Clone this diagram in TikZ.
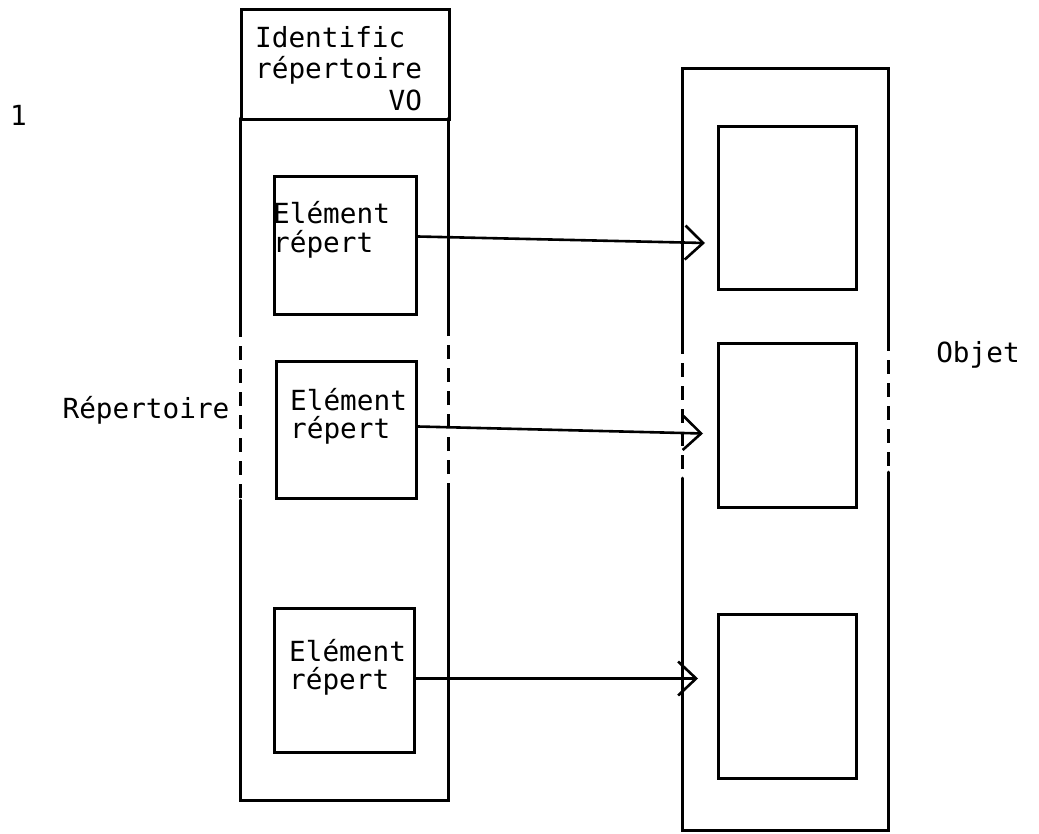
\documentclass[tikz,border=0pt]{standalone}
\usepackage{fontspec}
\setmonofont{DejaVu Sans Mono}
\usetikzlibrary{arrows.meta}
\begin{document}
\begin{tikzpicture}[x=1pt,y=-1pt,
  ln/.style={line width=3pt,line cap=round},
  dsh/.style={line width=3pt,dash pattern=on 14pt off 9pt},
  boxn/.style={draw,line width=3pt,inner sep=0pt,anchor=north west},
  txt/.style={font=\ttfamily\fontsize{27.7}{32}\selectfont,inner sep=0pt,anchor=base west},
  arr/.style={line width=2.6pt,-{Straight Barb[length=18pt,width=34pt,line width=2.6pt]}}]
\useasboundingbox (0,0) rectangle (1039,833);
% left column
\node[boxn,minimum width=208pt,minimum height=110pt] (hdr) at (240,8) {};
\coordinate (lc1) at (240,118);
\coordinate (lc2) at (240,323);
\coordinate (lc3) at (240,500);
\coordinate (lc4) at (240,800);
\coordinate (rc1) at (448,118);
\coordinate (rc2) at (448,330);
\coordinate (rc3) at (448,497);
\coordinate (rc4) at (448,800);
\draw[ln] (lc1) -- (lc2);
\draw[dsh] (lc2) -- (lc3);
\draw[ln] (lc3) -- (lc4) -- (rc4) -- (rc3);
\draw[dsh] (rc3) -- (rc2);
\draw[ln] (rc2) -- (rc1);
\node[txt] (h1) at (255,47) {Identific};
\node[txt] (h2) at (255,78) {répertoire};
\node[txt] (h3) at (255,110) {\phantom{répertoi}VO};
% left inner boxes
\node[boxn,minimum width=142pt,minimum height=138pt] (lb1) at (273,175) {};
\node[boxn,minimum width=140pt,minimum height=137pt] (lb2) at (275,360) {};
\node[boxn,minimum width=140pt,minimum height=144pt] (lb3) at (273,607) {};
\node[txt] (e1a) at (273,223) {Elément};
\node[txt] (e1b) at (273,252) {répert};
\node[txt] (e2a) at (290,410) {Elément};
\node[txt] (e2b) at (290,438) {répert};
\node[txt] (e3a) at (289,661) {Elément};
\node[txt] (e3b) at (289,689) {répert};
% right column
\coordinate (ol1) at (682,68);
\coordinate (ol2) at (682,340);
\coordinate (ol3) at (682,478);
\coordinate (ol4) at (682,830);
\coordinate (or1) at (888,68);
\coordinate (or2) at (888,337);
\coordinate (or3) at (888,472);
\coordinate (or4) at (888,830);
\draw[ln] (ol2) -- (ol1) -- (or1) -- (or2);
\draw[dsh] (ol2) -- (ol3);
\draw[dsh] (or2) -- (or3);
\draw[ln] (ol3) -- (ol4) -- (or4) -- (or3);
\node[boxn,minimum width=138pt,minimum height=163pt] (rb1) at (717,125) {};
\node[boxn,minimum width=138pt,minimum height=164pt] (rb2) at (717,342) {};
\node[boxn,minimum width=138pt,minimum height=164pt] (rb3) at (717,613) {};
% arrows
\coordinate (a1) at ([yshift=9pt]lb1.east);
\coordinate (b1) at ([xshift=-12pt,yshift=-35pt]rb1.west);
\coordinate (a2) at ([yshift=3.5pt]lb2.east);
\coordinate (b2) at ([xshift=-14pt,yshift=-8pt]rb2.west);
\coordinate (a3) at ([yshift=2pt]lb3.east);
\coordinate (b3) at ([xshift=-19pt,yshift=18pt]rb3.west);
\draw[arr] (a1) -- (b1);
\draw[arr] (a2) -- (b2);
\draw[arr] (a3) -- (b3);
% labels
\node[txt] (one) at (10,125) {1};
\node[txt,anchor=base] (rep) at (146,418) {Répertoire};
\node[txt,anchor=base] (obj) at (978,362) {Objet};
\end{tikzpicture}
\end{document}
